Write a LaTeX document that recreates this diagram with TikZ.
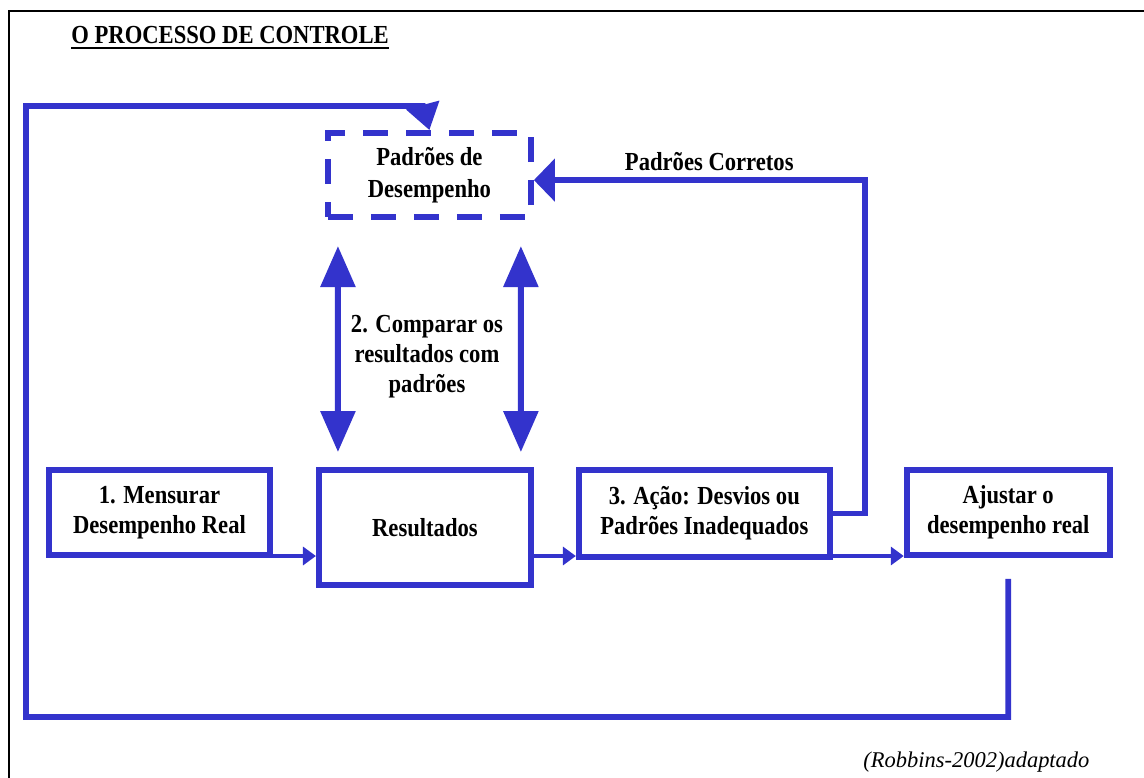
\documentclass[tikz,border=0pt]{standalone}
\usepackage{fontspec}
\setmainfont{Liberation Serif}
\newfontfamily\boxfont[FakeStretch=0.87]{Liberation Serif}
\usepackage{tikz}
\usetikzlibrary{
	positioning,
	arrows.meta
}
\definecolor{ctrlblue}{RGB}{51,51,204}
\tikzset{
	x=0.02cm,
	y=-0.02cm,
	box/.style={
		draw=ctrlblue, line width=3.4pt, align=center, inner sep=0pt,
		font=\boxfont\bfseries\fontsize{14.8}{17.3}\selectfont
	},
	dashedbox/.style={
		box, dash pattern=on 0.5cm off 0.36cm,
		font=\boxfont\bfseries\fontsize{14.8}{18.2}\selectfont
	},
	tag/.style={
		inner sep=0pt, align=center,
		font=\boxfont\bfseries\fontsize{14.8}{17}\selectfont
	},
	flow/.style={
		draw=ctrlblue, line width=2pt,
		-{Triangle[width=0.36cm,length=0.26cm]}
	},
	twoway/.style={
		draw=ctrlblue, line width=3.4pt,
		{Triangle[width=0.68cm,length=0.82cm]}-{Triangle[width=0.68cm,length=0.82cm]}
	},
	backflow/.style={
		draw=ctrlblue, line width=3.4pt,
		-{Triangle[width=0.84cm,length=0.42cm]}
	},
	loopline/.style={
		draw=ctrlblue, line width=3.4pt,
		-{Triangle[width=0.66cm,length=0.52cm]}
	}
}

\begin{document}
\begin{tikzpicture}
	\useasboundingbox (0,0) rectangle (1144,778);
	\draw[line width=1.2pt] (9,778) -- (9,11) -- (1144,11);

	\node[tag, anchor=base west] (titulo) at (71,43) {O PROCESSO DE CONTROLE};
	\draw[line width=1.2pt] ([yshift=-0.1cm]titulo.base west) -- ([yshift=-0.1cm]titulo.base east);

	\node[box, minimum width=4.42cm, minimum height=1.70cm] (mensurar) at (159.5,512.5) {1. Mensurar\\Desempenho Real};
	\node[box, minimum width=4.24cm, minimum height=2.30cm, right=0.86cm of mensurar.north east, anchor=north west] (resultados) {Resultados};
	\node[box, minimum width=5.02cm, minimum height=1.74cm, right=0.84cm of resultados.north east, anchor=north west] (acao) {3. Ação: Desvios ou\\Padrões Inadequados};
	\node[box, minimum width=4.06cm, minimum height=1.70cm, right=1.42cm of acao.north east, anchor=north west] (ajustar) {Ajustar o\\desempenho real};
	\node[dashedbox, minimum width=4.06cm, minimum height=1.68cm, above=4.94cm of resultados, xshift=0.09cm] (padroes) {Padrões de\\Desempenho};
	\node[tag] (comparar) at (427,357) {2. Comparar os\\resultados com\\padrões};

	\coordinate (rowline) at (0,556);
	\draw[flow] (mensurar.east |- rowline) -- (resultados.west |- rowline);
	\draw[flow] (resultados.east |- rowline) -- (acao.west |- rowline);
	\draw[flow] (acao.east |- rowline) -- (ajustar.west |- rowline);

	\draw[twoway] ([xshift=0.26cm, yshift=-0.52cm]padroes.south west) -- ([xshift=0.44cm, yshift=0.30cm]resultados.north west);
	\draw[twoway] ([xshift=-0.26cm, yshift=-0.52cm]padroes.south east) -- ([xshift=-0.26cm, yshift=0.30cm]resultados.north east);

	\draw[backflow] (acao.east) -- ++(32,0) |- ([yshift=-0.1cm]padroes.east)
		node[tag, pos=0.735, above=0.12cm] (corretos) {Padrões Corretos};

	\coordinate (loopSW) at (26,717);
	\coordinate (loopNW) at (26,106);
	\draw[loopline] ([yshift=-0.42cm]ajustar.south) -- (ajustar.south |- loopSW) -- (loopSW) -- (loopNW) -- ++(397,0) -- (padroes.north);

	\node[anchor=base west, inner sep=0pt, font=\itshape\fontsize{12.8}{15}\selectfont] (fonte) at (863,767) {(Robbins-2002)adaptado};
\end{tikzpicture}
\end{document}
